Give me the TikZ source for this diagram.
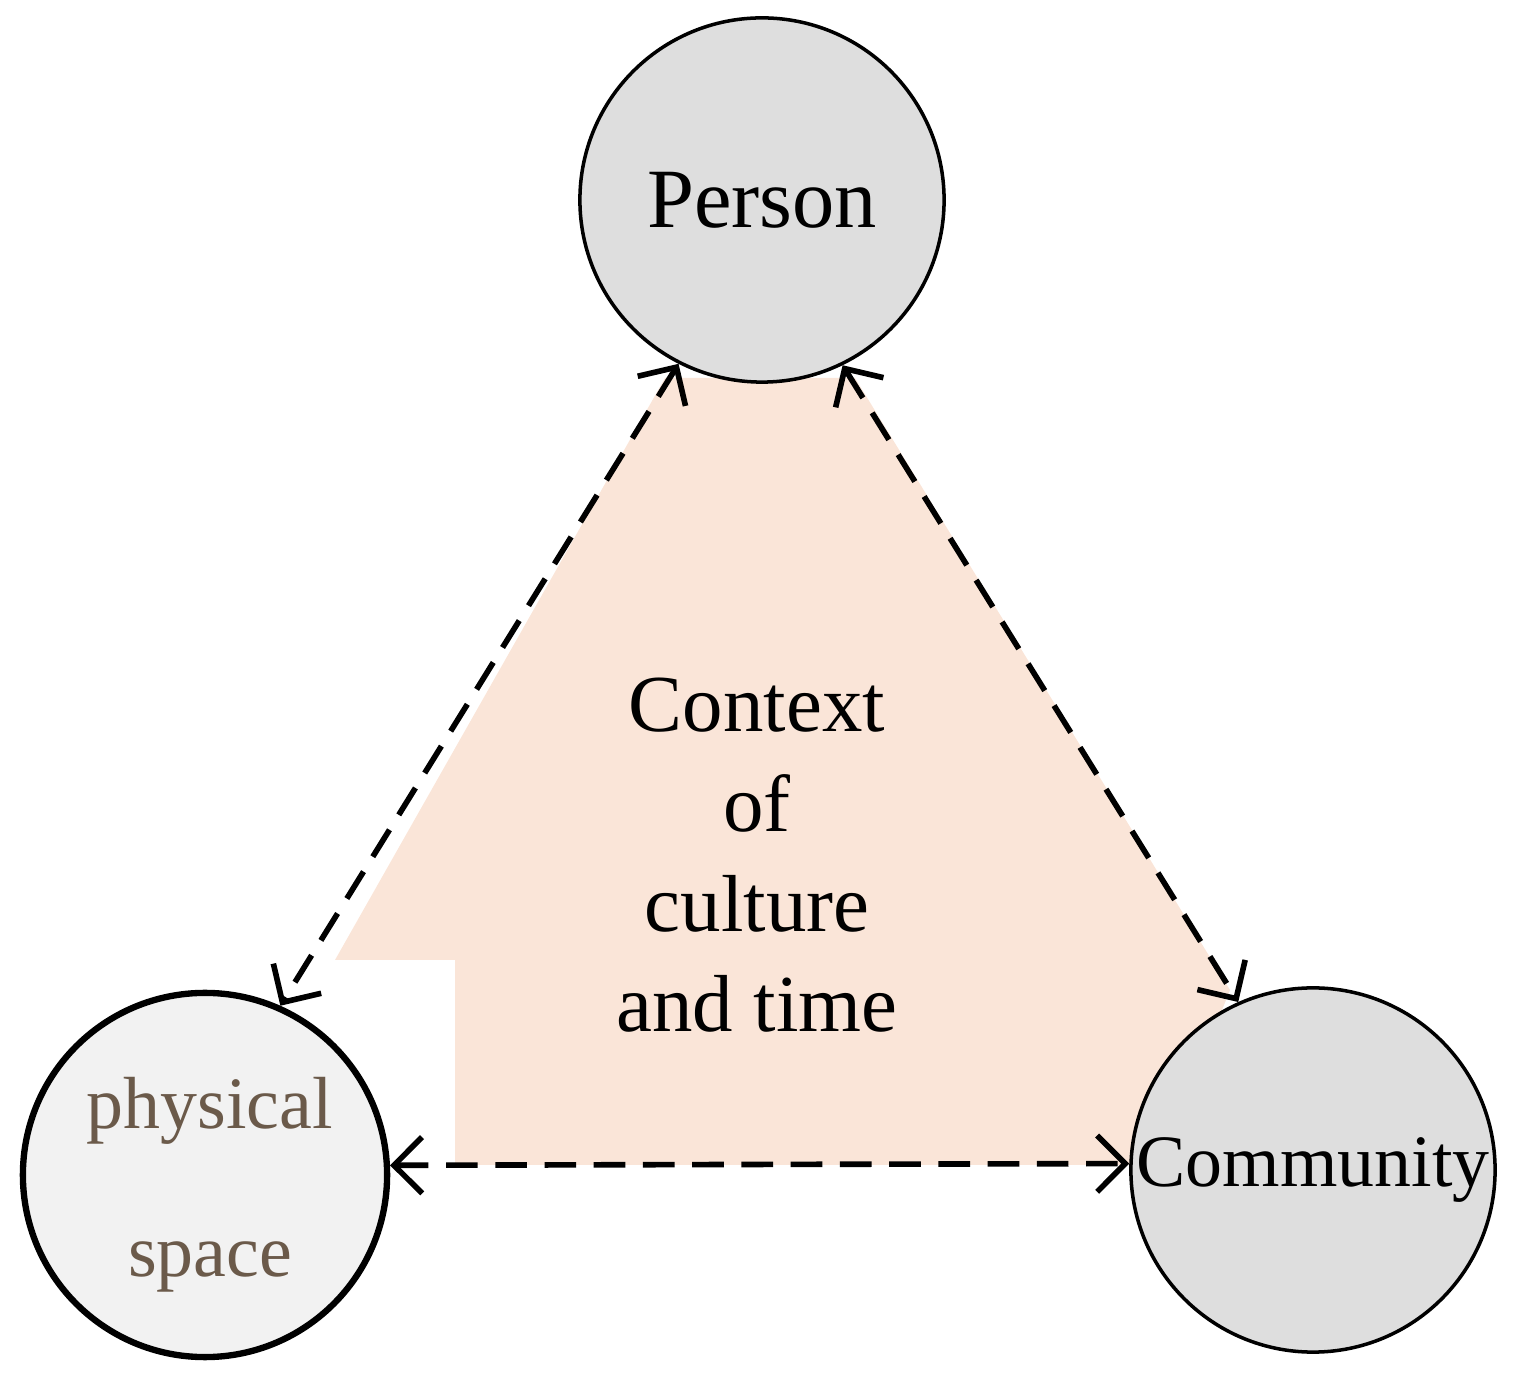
\documentclass[tikz,border=0pt]{standalone}
\usepackage{fontspec}
\setmainfont{Liberation Serif}
\usetikzlibrary{arrows.meta}
\definecolor{peach}{HTML}{FAE5D8}
\definecolor{gfill}{HTML}{DEDEDE}
\definecolor{lfill}{HTML}{F2F2F2}
\definecolor{ptxt}{HTML}{6B5A4A}
\tikzset{
 circ/.style={circle,draw=black,line width=1pt,minimum size=3.64cm,inner sep=0pt,fill=gfill},
 link/.style={dashed,line width=1.6pt,dash pattern=on 9pt off 5pt,{Straight Barb[length=8pt,width=16pt,line width=1.6pt]}-{Straight Barb[length=8pt,width=16pt,line width=1.6pt]}}
}
\begin{document}
\begin{tikzpicture}[x=0.01cm,y=-0.01cm]
\useasboundingbox (0,0) rectangle (1518,1380);
\fill[peach] (665,378)--(855,378)--(1230,990)--(1160,1165)--(455,1165)--(455,960)--(335,960)--cycle;
\node[circ,font=\fontsize{24}{28}\selectfont] (person) at (762,200) {Person};
\node[circ,fill=lfill,line width=1.8pt] (phys) at (205,1175) {};
\node[text=ptxt,align=center,font=\fontsize{21}{42}\selectfont] (ptxt) at (210,1185) {physical\\space};
\node[circ,font=\fontsize{21}{25}\selectfont] (comm) at (1313,1170) {Community};
\node[align=center,font=\fontsize{23}{28.5}\selectfont] (ctx) at (757,855) {Context\\of\\culture\\and time};
\draw[link] (person.243) -- (phys.66);
\draw[link] (person.296) -- (comm.114);
\draw[link] (phys.3) -- (comm.178);
\end{tikzpicture}
\end{document}
